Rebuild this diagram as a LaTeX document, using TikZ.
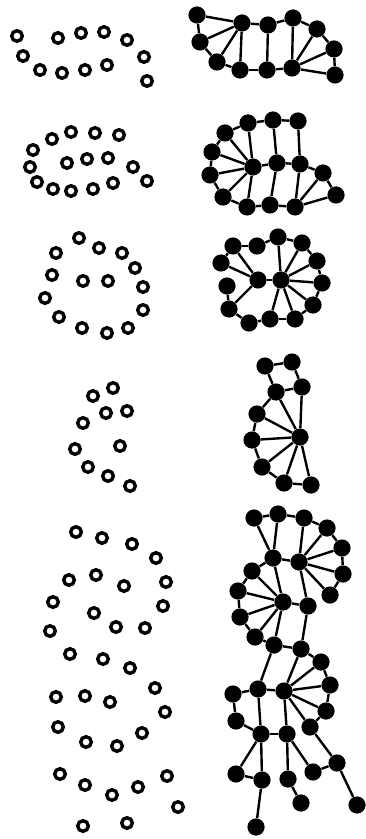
\documentclass[tikz,border=0pt]{standalone}
\usepackage{tikz}
\usetikzlibrary{positioning}

\begin{document}
\begin{tikzpicture}[x=0.5pt, y=-0.5pt,
    ring/.style={circle, draw=black, line width=1.7pt, fill=white, minimum size=5.3pt, inner sep=0pt},
    dot/.style={circle, fill=black, minimum size=8.6pt, inner sep=0pt},
    bond/.style={-, line width=1.2pt}]
        \useasboundingbox (0,0) rectangle (365,839);

        % open circles, left column
        \foreach \x/\y [count=\n] in {17/36, 58/38, 81/33, 104/32, 127/40, 144/57, 147/81, 23/56, 40/70, 62/73, 85/70, 107/65,
            33/150, 52/139, 71/132, 95/133, 119/135, 30/167, 67/163, 87/159, 108/158, 133/167, 147/181, 37/182, 53/189, 71/191, 93/189, 113/183,
            79/238, 56/253, 99/248, 122/253, 135/268, 52/275, 83/281, 108/281, 143/287, 45/298, 143/310, 59/317, 82/328, 107/333, 128/328,
            113/388, 93/396, 127/411, 106/413, 83/423, 120/446, 75/449, 88/467, 108/476, 130/486,
            76/532, 102/538, 132/544, 156/558, 69/580, 96/575, 124/586, 166/582, 53/602, 94/613, 116/627, 163/606, 50/631, 145/628, 70/654, 103/659, 130/668,
            56/697, 85/696, 110/702, 155/688, 165/712, 58/727, 86/742, 117/746, 142/733, 60/774, 85/785, 112/795, 138/787, 167/776, 178/807, 83/826, 127/823}
            \node[ring] (p\n) at (\x,\y) {};

        % filled dots, right column
        \foreach \n/\x/\y in {a1/197/15, a2/200/42, a3/217/62, a4/240/70, a5/242/23, a6/268/25, a7/267/70, a8/293/18, a9/292/68, a10/317/29, a11/334/49, a12/335/75,
            b1/225/133, b2/248/123, b3/273/120, b4/298/121, b5/212/152, b6/210/175, b7/223/197, b8/247/207, b9/270/205, b10/295/207, b11/253/167, b12/277/163, b13/300/164, b14/323/173, b15/336/195,
            c1/233/246, c2/257/246, c3/278/237, c4/302/243, c5/317/261, c6/322/283, c7/313/305, c8/295/319, c9/270/319, c10/249/323, c11/229/309, c12/227/286, c13/221/263, c14/258/280, c15/281/280,
            d1/265/366, d2/292/362, d3/302/387, d4/276/392, d5/257/414, d6/252/440, d7/262/467, d8/284/483, d9/311/485, d10/300/437,
            e1/254/518, e2/278/514, e3/304/518, e4/327/528, e5/342/548, e6/343/574, e7/330/595, e8/299/562, e9/273/558, e10/252/571, e11/238/591, e12/240/617, e13/255/637, e14/274/645, e15/301/649, e16/321/662, e17/283/602, e18/308/606,
            f1/233/694, f2/258/689, f3/284/691, f4/330/685, f5/326/711, f6/236/721, f7/261/734, f8/287/734, f9/310/727, f10/337/763, f11/236/774, f12/262/780, f13/288/779, f14/313/772, f15/301/803, f16/357/805, f17/256/827}
            \node[dot] (\n) at (\x,\y) {};

        % bonds
        \foreach \s/\t in {a1/a2, a2/a3, a3/a4, a4/a7, a7/a9, a9/a12, a12/a11, a11/a10, a10/a8, a8/a6, a6/a5, a5/a1, a5/a2, a5/a3, a5/a4, a6/a7, a8/a9, a9/a10, a9/a11,
            b1/b2, b2/b3, b3/b4, b1/b5, b5/b6, b6/b7, b7/b8, b8/b9, b9/b10, b4/b13, b3/b12, b2/b11, b11/b1, b11/b5, b11/b6, b11/b7, b11/b8, b11/b12, b12/b13, b12/b9, b13/b10, b13/b14, b14/b10, b14/b15, b15/b10,
            c1/c2, c2/c3, c3/c4, c4/c5, c5/c6, c6/c7, c7/c8, c8/c9, c9/c10, c10/c11, c11/c12, c13/c1, c14/c1, c14/c13, c14/c11, c14/c15, c15/c3, c15/c4, c15/c5, c15/c6, c15/c7, c15/c8, c15/c9,
            d1/d2, d1/d4, d2/d3, d4/d3, d4/d5, d5/d6, d6/d7, d7/d8, d8/d9, d3/d10, d10/d4, d10/d5, d10/d6, d10/d7, d10/d8, d10/d9,
            e1/e2, e1/e9, e2/e9, e2/e3, e3/e4, e3/e8, e4/e8, e5/e8, e6/e8, e7/e8, e4/e5, e5/e6, e6/e7, e9/e8, e9/e10, e9/e17, e8/e18, e17/e18, e10/e11, e11/e12, e12/e13, e13/e14,
            e17/e10, e17/e11, e17/e12, e17/e13, e17/e14, e14/e15, e18/e15, e15/e16, e16/f4, e14/f2, e15/f3, e16/f3,
            f1/f2, f2/f3, f3/f4, f3/f5, f3/f9, f4/f5, f5/f9, f1/f6, f6/f7, f2/f7, f7/f8, f3/f8, f9/f10, f10/f16, f10/f14, f8/f14, f8/f13, f13/f15, f7/f11, f7/f12, f11/f12, f12/f17}
            \draw[bond] (\s) -- (\t);
      \end{tikzpicture}
\end{document}
